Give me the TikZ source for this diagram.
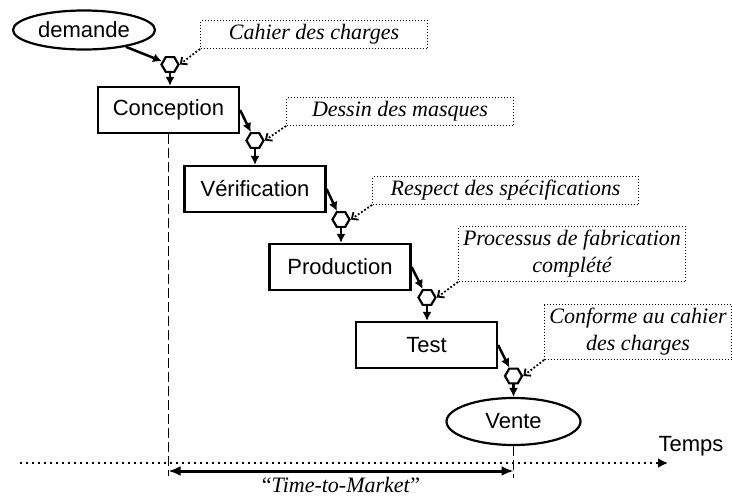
\documentclass[tikz,border=0pt]{standalone}
\usepackage{fontspec}
\setmainfont{Liberation Serif}
\setsansfont{Liberation Sans}
\usetikzlibrary{shapes.geometric,arrows.meta}

\begin{document}
\begin{tikzpicture}[x=1pt,y=-1pt,
    etape/.style={draw,line width=2.2pt,minimum width=141pt,minimum height=46pt,
      font=\sffamily\fontsize{22}{26}\selectfont},
    bout/.style={draw,ellipse,line width=2.2pt,inner sep=0pt,
      font=\sffamily\fontsize{22}{26}\selectfont},
    jalon/.style={draw,regular polygon,regular polygon sides=6,minimum size=17pt,
      inner sep=0pt,line width=2.2pt},
    note/.style={draw,dotted,line width=1pt,align=center,anchor=south west,
      font=\itshape\fontsize{22}{27}\selectfont},
    fleche/.style={-{Latex[length=9pt,width=9pt]},line width=2.5pt},
    lien/.style={dotted,line width=1.8pt,-{Straight Barb[length=5pt,width=9pt]}},
    repere/.style={dash pattern=on 10pt off 4pt,line width=1pt}]
  \useasboundingbox (0,0) rectangle (732,499);

  % etapes
  \node[bout,minimum width=142pt,minimum height=39pt] (demande) at (84,30) {demande};
  \node[etape] (conc) at (168.5,110) {Conception};
  \node[etape] (verif) at (255,189) {Vérification};
  \node[etape] (prod) at (340,267) {Production};
  \node[etape] (test) at (426.5,345) {Test};
  \node[bout,minimum width=134pt,minimum height=47pt] (vente) at (513.5,421.5) {Vente};

  % jalons
  \node[jalon] (h1) at (170,64.5) {};
  \node[jalon] (h2) at (255,140.5) {};
  \node[jalon] (h3) at (341,219.5) {};
  \node[jalon] (h4) at (427,297.5) {};
  \node[jalon] (h5) at (513.5,376) {};

  % conditions de passage
  \node[note,minimum width=227pt,minimum height=28pt] (n1) at (200,49) {Cahier des charges};
  \node[note,minimum width=227pt,minimum height=28pt] (n2) at (286,126) {Dessin des masques};
  \node[note,minimum width=266pt,minimum height=28pt] (n3) at (372,205) {Respect des spécifications};
  \node[note,minimum width=227pt,minimum height=55pt] (n4) at (458,282) {Processus de fabrication\\complété};
  \node[note,minimum width=187pt,minimum height=55pt] (n5) at (544,360) {Conforme au cahier\\des charges};

  \draw[fleche] (demande) -- (h1);
  \foreach \b/\h in {conc/h2,verif/h3,prod/h4,test/h5}
     \draw[fleche] (\b.east) -- (\h);
  \foreach \h/\b in {h1/conc,h2/verif,h3/prod,h4/test,h5/vente}
     \draw[fleche] (\h.south) -- (\h.south |- \b.north);
  \foreach \i in {1,...,5}
     \draw[lien] (n\i.south west) -- (h\i.east);

  % axe du temps
  \coordinate (debut) at (20,463);
  \coordinate (fin) at (668,463);
  \draw[dash pattern=on 2pt off 4pt,line width=2.2pt,-{Latex[length=10pt,width=10pt]}] (debut) -- (fin);
  \node[font=\sffamily\fontsize{22}{26}\selectfont] (temps) at (691,446) {Temps};

  \draw[repere] (conc.south) -- (conc.south |- 0,476);
  \draw[repere] (vente.south) -- (vente.south |- 0,478);
  \draw[{Latex[length=12pt,width=10pt]}-{Latex[length=12pt,width=10pt]},line width=3pt]
     (conc.south |- 0,471) -- (vente.south |- 0,471);
  \node[font=\fontsize{22}{26}\selectfont] (ttm) at (341,485) {``\textit{Time-to-Market}''};
\end{tikzpicture}
\end{document}
